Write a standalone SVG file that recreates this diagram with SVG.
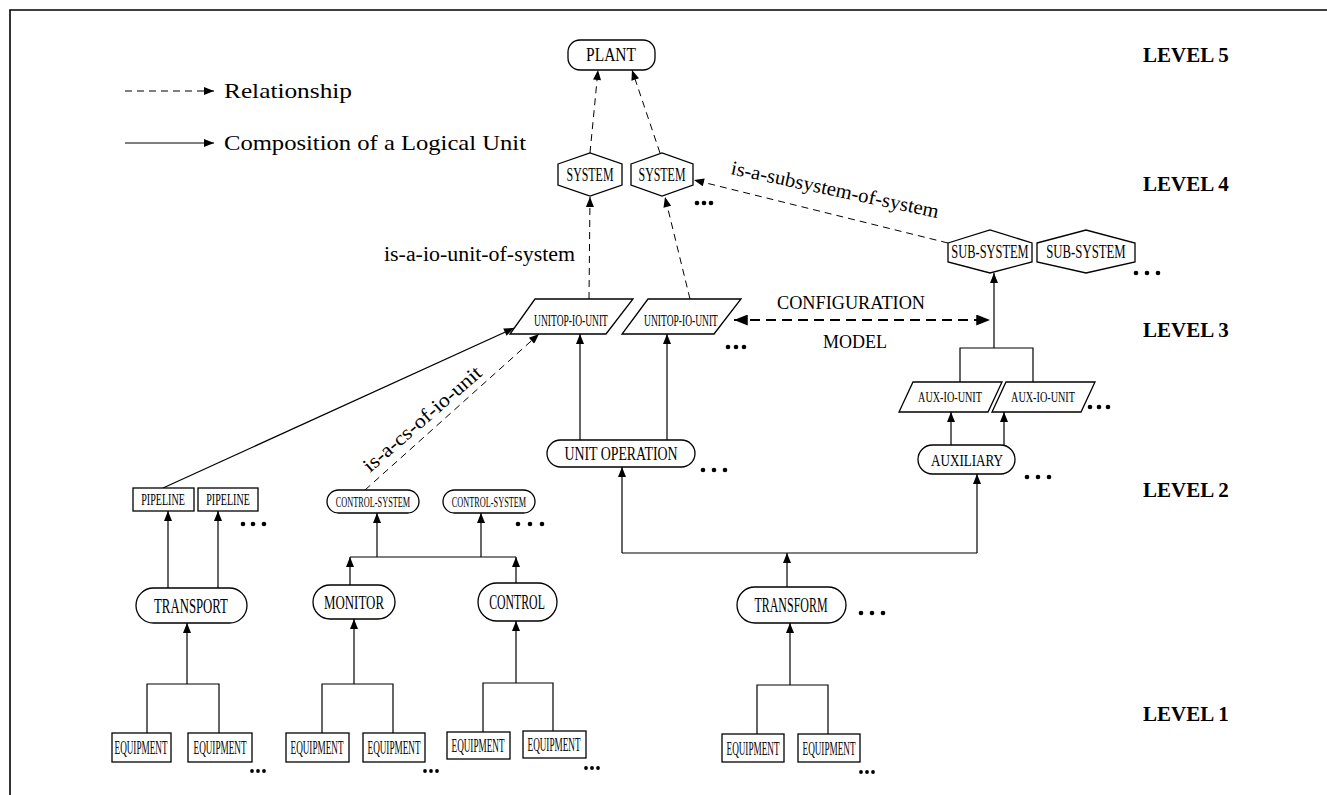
<svg xmlns="http://www.w3.org/2000/svg" width="1327" height="795" viewBox="0 0 1327 795">
<defs>
<marker id="ah" viewBox="0 0 10 8" refX="10" refY="4" markerWidth="12" markerHeight="8" markerUnits="userSpaceOnUse" orient="auto"><path d="M0,0 L10,4 L0,8 z" fill="#000"/></marker>
<marker id="ahb" viewBox="0 0 10 8" refX="10" refY="4" markerWidth="16" markerHeight="11" markerUnits="userSpaceOnUse" orient="auto-start-reverse"><path d="M0,0 L10,4 L0,8 z" fill="#000"/></marker>
</defs>
<style>
.n{fill:#fff;stroke:#000;stroke-width:1.3}
.t{font-family:"Liberation Serif",serif;fill:#000;text-anchor:middle}
.lab{font-family:"Liberation Serif",serif;fill:#000}
.lv{font-family:"Liberation Serif",serif;font-weight:bold;font-size:21px;fill:#000}
.s{fill:none;stroke:#000;stroke-width:1.2}
.sa{fill:none;stroke:#000;stroke-width:1.2;marker-end:url(#ah)}
.d{fill:none;stroke:#000;stroke-width:1;stroke-dasharray:7 5;marker-end:url(#ah)}
.dot{fill:#000}
</style>
<rect width="1327" height="795" fill="#fff"/>
<path d="M10,795 L10,10 L1327,10" fill="none" stroke="#000" stroke-width="1.6"/>

<g id="legend">
<line x1="125" y1="91" x2="214" y2="91" class="d"/>
<line x1="125" y1="143" x2="214" y2="143" class="sa"/>
<text x="224" y="98" class="lab" font-size="21" textLength="128" lengthAdjust="spacingAndGlyphs">Relationship</text>
<text x="224" y="150" class="lab" font-size="21" textLength="302" lengthAdjust="spacingAndGlyphs">Composition of a Logical Unit</text>
</g>

<g id="levels">
<text x="1143" y="62" class="lv">LEVEL 5</text>
<text x="1143" y="191" class="lv">LEVEL 4</text>
<text x="1143" y="337" class="lv">LEVEL 3</text>
<text x="1143" y="497" class="lv">LEVEL 2</text>
<text x="1143" y="721" class="lv">LEVEL 1</text>
</g>

<g id="connectors">
<line x1="590" y1="153" x2="598" y2="70" class="d"/>
<line x1="660" y1="153" x2="632" y2="70" class="d"/>
<line x1="589" y1="299" x2="590" y2="197" class="d"/>
<line x1="690" y1="299" x2="665" y2="197" class="d"/>
<line x1="948" y1="243" x2="694" y2="180" class="d"/>
<line x1="163" y1="488" x2="514" y2="328" class="sa"/>
<line x1="365" y1="490" x2="539" y2="334" class="d"/>
<line x1="580" y1="440" x2="580" y2="334" class="sa"/>
<line x1="667" y1="440" x2="667" y2="334" class="sa"/>
<line x1="734" y1="320" x2="990" y2="320" fill="none" stroke="#000" stroke-width="2" stroke-dasharray="10 6" marker-start="url(#ahb)" marker-end="url(#ahb)"/>
<polyline points="960,382 960,348 1033,348 1033,382" class="s"/>
<line x1="994" y1="348" x2="994" y2="273" class="sa"/>
<line x1="951" y1="445" x2="951" y2="412" class="sa"/>
<line x1="1004" y1="445" x2="1004" y2="412" class="sa"/>
<line x1="622" y1="553" x2="977" y2="553" class="s"/>
<line x1="622" y1="553" x2="622" y2="467" class="sa"/>
<line x1="977" y1="553" x2="977" y2="474" class="sa"/>
<line x1="787" y1="587" x2="787" y2="553" class="sa"/>
<polyline points="757,734 757,685 828,685 828,734" class="s"/>
<line x1="790" y1="685" x2="790" y2="623" class="sa"/>
<line x1="168" y1="588" x2="168" y2="511" class="sa"/>
<line x1="218" y1="588" x2="218" y2="511" class="sa"/>
<polyline points="147,733 147,684 219,684 219,733" class="s"/>
<line x1="187" y1="684" x2="187" y2="623" class="sa"/>
<line x1="350" y1="557" x2="516" y2="557" class="s"/>
<line x1="377" y1="557" x2="377" y2="513" class="sa"/>
<line x1="481" y1="557" x2="481" y2="513" class="sa"/>
<line x1="350" y1="585" x2="350" y2="557" class="sa"/>
<line x1="516" y1="583" x2="516" y2="557" class="sa"/>
<polyline points="322,733 322,684 393,684 393,733" class="s"/>
<line x1="354" y1="684" x2="354" y2="619" class="sa"/>
<polyline points="483,732 483,683 553,683 553,732" class="s"/>
<line x1="516" y1="683" x2="516" y2="621" class="sa"/>
</g>

<g id="edge-labels">
<text x="384" y="261" class="lab" font-size="20" textLength="191" lengthAdjust="spacingAndGlyphs">is-a-io-unit-of-system</text>
<text x="730" y="174" class="lab" font-size="20" textLength="212" lengthAdjust="spacingAndGlyphs" transform="rotate(12 730 174)">is-a-subsystem-of-system</text>
<text x="370" y="473" class="lab" font-size="20" textLength="150" lengthAdjust="spacingAndGlyphs" transform="rotate(-41 370 473)">is-a-cs-of-io-unit</text>
<text x="851" y="309" class="t" font-size="18" textLength="148" lengthAdjust="spacingAndGlyphs">CONFIGURATION</text>
<text x="855" y="348" class="t" font-size="18" textLength="64" lengthAdjust="spacingAndGlyphs">MODEL</text>
</g>

<g id="plant"><rect x="568" y="40" width="87" height="30" rx="12" class="n"/><text class="t" font-size="18" transform="translate(611 61) scale(0.86 1)">PLANT</text></g>
<g id="system1"><polygon points="558,164 590,153 622,164 622,185 590,196 558,185" class="n"/><text class="t" font-size="18" transform="translate(590 181) scale(0.66 1)">SYSTEM</text></g>
<g id="system2"><polygon points="631,164 662,153 693,164 693,185 662,196 631,185" class="n"/><text class="t" font-size="18" transform="translate(662 181) scale(0.66 1)">SYSTEM</text></g>
<g id="subsystem1"><polygon points="948,243 990,230 1032,243 1032,262 990,273 948,262" class="n"/><text class="t" font-size="18" transform="translate(990 258) scale(0.69 1)">SUB-SYSTEM</text></g>
<g id="subsystem2"><polygon points="1037,243 1086,230 1135,243 1135,262 1086,273 1037,262" class="n"/><text class="t" font-size="18" transform="translate(1086 258) scale(0.71 1)">SUB-SYSTEM</text></g>
<g id="unitop1"><polygon points="535,299 633,299 606,334 510,334" class="n"/><text class="t" font-size="17" transform="translate(571 326) scale(0.56 1)">UNITOP-IO-UNIT</text></g>
<g id="unitop2"><polygon points="648,299 741,299 714,334 622,334" class="n"/><text class="t" font-size="17" transform="translate(681 326) scale(0.56 1)">UNITOP-IO-UNIT</text></g>
<g id="aux1"><polygon points="913,382 1002,382 988,412 899,412" class="n"/><text class="t" font-size="15" transform="translate(950 402) scale(0.68 1)">AUX-IO-UNIT</text></g>
<g id="aux2"><polygon points="1006,382 1095,382 1081,412 992,412" class="n"/><text class="t" font-size="15" transform="translate(1043 402) scale(0.68 1)">AUX-IO-UNIT</text></g>
<g id="unitoperation"><rect x="547" y="440" width="148" height="27" rx="13.5" class="n"/><text class="t" font-size="18" transform="translate(621 460) scale(0.77 1)">UNIT OPERATION</text></g>
<g id="auxiliary"><rect x="918" y="445" width="97" height="29" rx="14.5" class="n"/><text class="t" font-size="17" transform="translate(967 466) scale(0.77 1)">AUXILIARY</text></g>
<g id="transform"><rect x="737" y="587" width="109" height="36" rx="18" class="n"/><text class="t" font-size="21" transform="translate(791 612) scale(0.57 1)">TRANSFORM</text></g>
<g id="pipeline1"><rect x="133" y="488" width="61" height="23" class="n"/><text class="t" font-size="16" transform="translate(163 505) scale(0.63 1)">PIPELINE</text></g>
<g id="pipeline2"><rect x="198" y="488" width="60" height="23" class="n"/><text class="t" font-size="16" transform="translate(228 505) scale(0.63 1)">PIPELINE</text></g>
<g id="cs1"><rect x="327" y="490" width="92" height="23" rx="11.5" class="n"/><text class="t" font-size="14" transform="translate(373 507) scale(0.59 1)">CONTROL-SYSTEM</text></g>
<g id="cs2"><rect x="443" y="490" width="92" height="23" rx="11.5" class="n"/><text class="t" font-size="14" transform="translate(489 507) scale(0.59 1)">CONTROL-SYSTEM</text></g>
<g id="transport"><rect x="136" y="588" width="111" height="35" rx="17.5" class="n"/><text class="t" font-size="21" transform="translate(191 613) scale(0.61 1)">TRANSPORT</text></g>
<g id="monitor"><rect x="313" y="585" width="82" height="34" rx="17" class="n"/><text class="t" font-size="19" transform="translate(354 609) scale(0.68 1)">MONITOR</text></g>
<g id="control"><rect x="478" y="583" width="79" height="38" rx="19" class="n"/><text class="t" font-size="20" transform="translate(517 609) scale(0.59 1)">CONTROL</text></g>
<g id="eq1"><rect x="112" y="733" width="59" height="29" class="n"/><text class="t" font-size="18" transform="translate(141 754) scale(0.51 1)">EQUIPMENT</text></g>
<g id="eq2"><rect x="188" y="733" width="64" height="29" class="n"/><text class="t" font-size="18" transform="translate(220 754) scale(0.51 1)">EQUIPMENT</text></g>
<g id="eq3"><rect x="286" y="733" width="63" height="29" class="n"/><text class="t" font-size="18" transform="translate(317 754) scale(0.51 1)">EQUIPMENT</text></g>
<g id="eq4"><rect x="363" y="733" width="62" height="29" class="n"/><text class="t" font-size="18" transform="translate(394 754) scale(0.51 1)">EQUIPMENT</text></g>
<g id="eq5"><rect x="447" y="732" width="63" height="27" class="n"/><text class="t" font-size="18" transform="translate(478 752) scale(0.51 1)">EQUIPMENT</text></g>
<g id="eq6"><rect x="523" y="731" width="63" height="27" class="n"/><text class="t" font-size="18" transform="translate(554 751) scale(0.51 1)">EQUIPMENT</text></g>
<g id="eq7"><rect x="722" y="734" width="62" height="28" class="n"/><text class="t" font-size="18" transform="translate(753 755) scale(0.51 1)">EQUIPMENT</text></g>
<g id="eq8"><rect x="798" y="734" width="62" height="28" class="n"/><text class="t" font-size="18" transform="translate(829 755) scale(0.51 1)">EQUIPMENT</text></g>

<g id="ellipses">
<circle cx="697" cy="203" r="2.3" class="dot"/><circle cx="704" cy="203" r="2.3" class="dot"/><circle cx="711" cy="203" r="2.3" class="dot"/>
<circle cx="1136" cy="273" r="2.3" class="dot"/><circle cx="1147" cy="273" r="2.3" class="dot"/><circle cx="1158" cy="273" r="2.3" class="dot"/>
<circle cx="728" cy="347" r="2.3" class="dot"/><circle cx="736" cy="347" r="2.3" class="dot"/><circle cx="744" cy="347" r="2.3" class="dot"/>
<circle cx="1090" cy="407" r="2.3" class="dot"/><circle cx="1099" cy="407" r="2.3" class="dot"/><circle cx="1108" cy="407" r="2.3" class="dot"/>
<circle cx="1027" cy="477" r="2.3" class="dot"/><circle cx="1038" cy="477" r="2.3" class="dot"/><circle cx="1049" cy="477" r="2.3" class="dot"/>
<circle cx="703" cy="470" r="2.3" class="dot"/><circle cx="714" cy="470" r="2.3" class="dot"/><circle cx="725" cy="470" r="2.3" class="dot"/>
<circle cx="861" cy="613" r="2.3" class="dot"/><circle cx="872" cy="613" r="2.3" class="dot"/><circle cx="883" cy="613" r="2.3" class="dot"/>
<circle cx="243" cy="524" r="2.3" class="dot"/><circle cx="253" cy="524" r="2.3" class="dot"/><circle cx="264" cy="524" r="2.3" class="dot"/>
<circle cx="518" cy="524" r="2.3" class="dot"/><circle cx="530" cy="524" r="2.3" class="dot"/><circle cx="542" cy="524" r="2.3" class="dot"/>
<circle cx="252" cy="771" r="1.9" class="dot"/><circle cx="258" cy="771" r="1.9" class="dot"/><circle cx="264" cy="771" r="1.9" class="dot"/>
<circle cx="425" cy="771" r="1.9" class="dot"/><circle cx="431" cy="771" r="1.9" class="dot"/><circle cx="437" cy="771" r="1.9" class="dot"/>
<circle cx="586" cy="768" r="1.9" class="dot"/><circle cx="592" cy="768" r="1.9" class="dot"/><circle cx="598" cy="768" r="1.9" class="dot"/>
<circle cx="861" cy="772" r="1.9" class="dot"/><circle cx="867" cy="772" r="1.9" class="dot"/><circle cx="873" cy="772" r="1.9" class="dot"/>
</g>
</svg>
